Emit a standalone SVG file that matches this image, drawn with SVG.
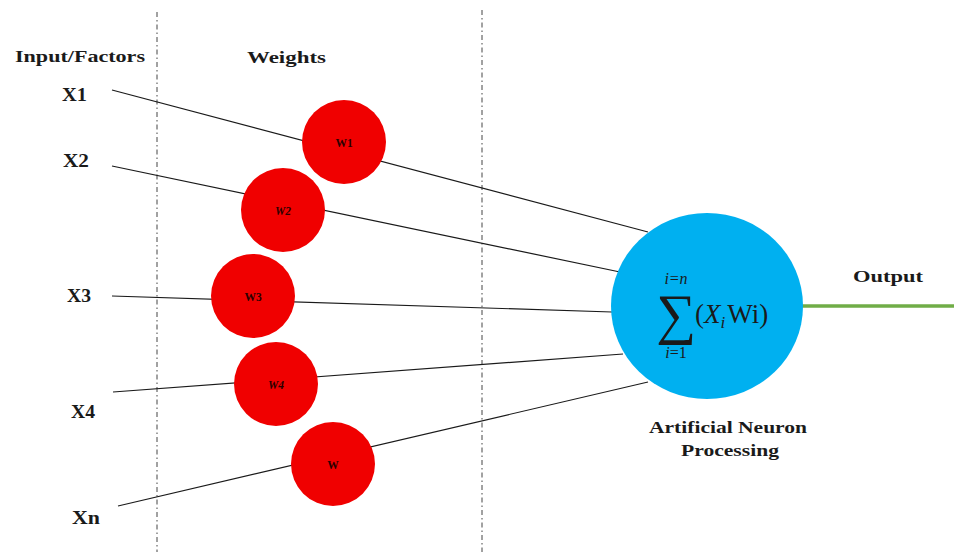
<svg xmlns="http://www.w3.org/2000/svg" width="954" height="554" viewBox="0 0 954 554">
  <style>
    .lbl { font-family: "Liberation Serif", "DejaVu Serif", serif; font-weight: bold; fill: #1a1a1a; }
    .wt { font-family: "Liberation Serif", "DejaVu Serif", serif; font-weight: bold; font-size: 11.5px; fill: #2a0000; text-anchor: middle; }
    .weight { fill: #F00000; }
    .link { stroke: #1a1a1a; stroke-width: 1.2; fill: none; }
    .divider { stroke: #444; stroke-width: 1; stroke-dasharray: 5 3 1.5 3; }
    .math { font-family: "Liberation Serif", "DejaVu Serif", serif; fill: #1a1a1a; }
  </style>
  <rect width="954" height="554" fill="#ffffff"/>

  <!-- column dividers -->
  <g id="dividers">
    <line class="divider" x1="157" y1="12" x2="157" y2="552"/>
    <line class="divider" x1="482" y1="10" x2="482" y2="552"/>
  </g>

  <!-- headings -->
  <text class="lbl" x="15" y="62" font-size="17" textLength="130" lengthAdjust="spacingAndGlyphs">Input/Factors</text>
  <text class="lbl" x="247" y="63" font-size="17" textLength="79" lengthAdjust="spacingAndGlyphs">Weights</text>

  <!-- connectors: inputs through weights to the neuron, and the output -->
  <g id="connectors">
    <line class="link" x1="112" y1="90" x2="648" y2="232"/>
    <line class="link" x1="112" y1="166" x2="620" y2="272"/>
    <line class="link" x1="112" y1="296" x2="612" y2="312"/>
    <line class="link" x1="113" y1="392" x2="623" y2="354"/>
    <line class="link" x1="118" y1="506" x2="648" y2="382"/>
    <line x1="800" y1="306" x2="954" y2="306" stroke="#70AD47" stroke-width="3.5"/>
  </g>

  <!-- inputs -->
  <g id="x1"><text class="lbl" x="62" y="101" font-size="19" textLength="25" lengthAdjust="spacingAndGlyphs">X1</text></g>
  <g id="x2"><text class="lbl" x="63" y="167" font-size="19" textLength="26" lengthAdjust="spacingAndGlyphs">X2</text></g>
  <g id="x3"><text class="lbl" x="67" y="302" font-size="19" textLength="24" lengthAdjust="spacingAndGlyphs">X3</text></g>
  <g id="x4"><text class="lbl" x="71" y="418" font-size="19" textLength="24" lengthAdjust="spacingAndGlyphs">X4</text></g>
  <g id="xn"><text class="lbl" x="72" y="524" font-size="19" textLength="28" lengthAdjust="spacingAndGlyphs">Xn</text></g>

  <!-- weights -->
  <g id="w1">
    <circle class="weight" cx="344" cy="142" r="42"/>
    <text class="wt" x="344" y="147">W1</text>
  </g>
  <g id="w2">
    <circle class="weight" cx="283" cy="210" r="42"/>
    <text class="wt" x="283" y="215" font-style="italic">W2</text>
  </g>
  <g id="w3">
    <circle class="weight" cx="253" cy="296" r="42"/>
    <text class="wt" x="253" y="301">W3</text>
  </g>
  <g id="w4">
    <circle class="weight" cx="276" cy="384" r="42"/>
    <text class="wt" x="276" y="389" font-style="italic">W4</text>
  </g>
  <g id="wn">
    <circle class="weight" cx="333" cy="464" r="42"/>
    <text class="wt" x="333" y="469">W</text>
  </g>

  <!-- neuron -->
  <g id="neuron">
    <ellipse cx="707" cy="306" rx="96" ry="93" fill="#00B0F0"/>
    <text class="math" x="676" y="284" font-size="16" font-style="italic" text-anchor="middle">i=n</text>
    <text class="math" x="676" y="333" font-size="56" text-anchor="middle">∑</text>
    <text class="math" x="676" y="358" font-size="16" text-anchor="middle"><tspan font-style="italic">i</tspan>=1</text>
    <text class="math" x="695" y="323" font-size="27">(<tspan font-style="italic">X</tspan><tspan font-style="italic" font-size="17" dy="5">i</tspan><tspan dy="-5" dx="2">Wi)</tspan></text>
  </g>
  <g id="neuron-label">
    <text class="lbl" x="728" y="433" font-size="16" text-anchor="middle" textLength="158" lengthAdjust="spacingAndGlyphs">Artificial Neuron</text>
    <text class="lbl" x="730" y="456" font-size="16" text-anchor="middle" textLength="98" lengthAdjust="spacingAndGlyphs">Processing</text>
  </g>

  <g id="output">
    <text class="lbl" x="853" y="282" font-size="16" textLength="70" lengthAdjust="spacingAndGlyphs">Output</text>
  </g>
</svg>
